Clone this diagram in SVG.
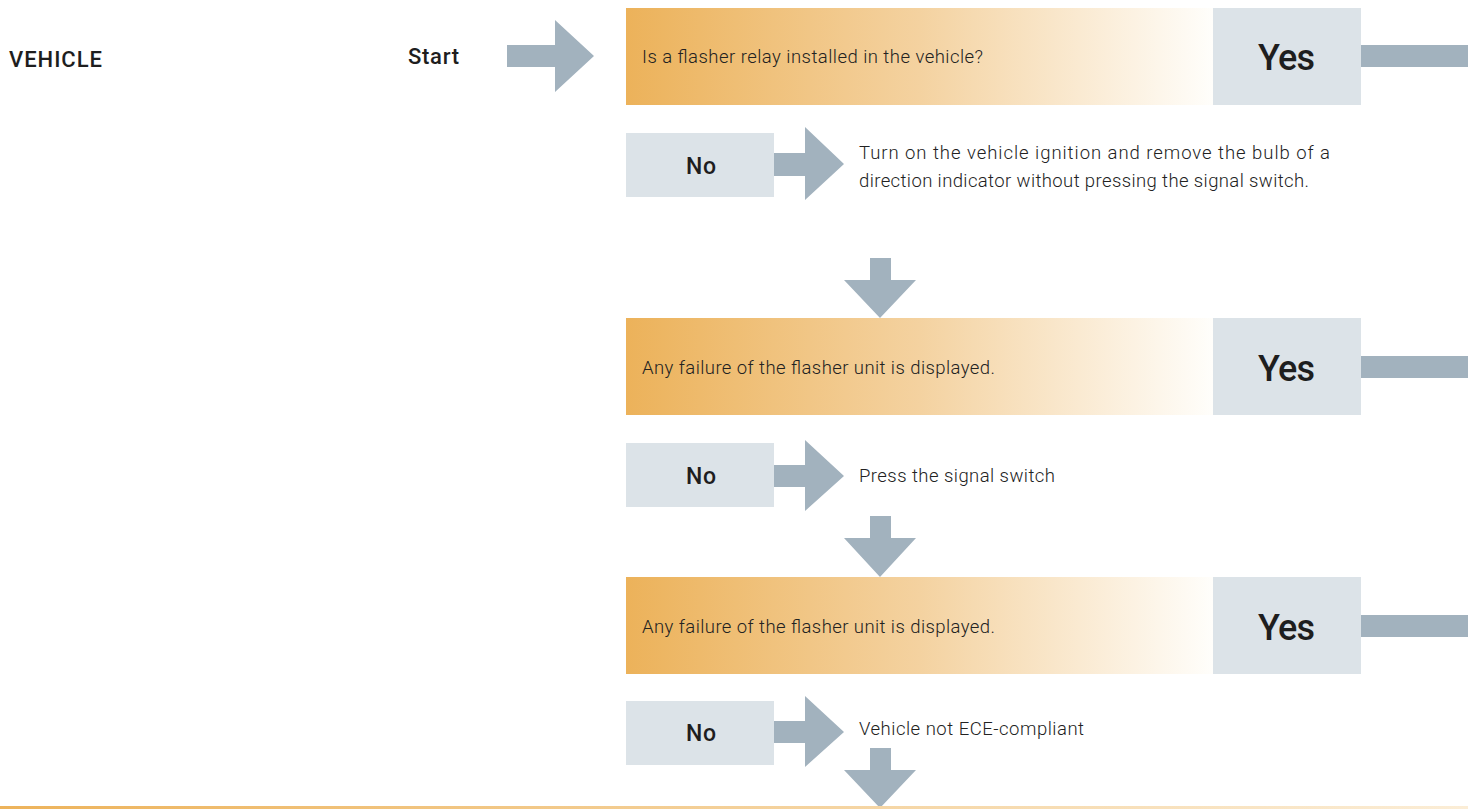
<svg xmlns="http://www.w3.org/2000/svg" width="1468" height="810" viewBox="0 0 1468 810">
<defs>
<linearGradient id="og" x1="0" y1="0" x2="1" y2="0">
<stop offset="0" stop-color="#ECB25A"/>
<stop offset="0.5" stop-color="#F4D2A0"/>
<stop offset="1" stop-color="#FFFEFB"/>
</linearGradient>
<linearGradient id="lg" x1="0" y1="0" x2="1" y2="0">
<stop offset="0" stop-color="#EDB35B"/>
<stop offset="1" stop-color="#FBEDD6"/>
</linearGradient>
<style>
.q{fill:url(#og)}
.y{fill:#DCE3E8}
.a{fill:#A2B2BE}
.t{font-family:Roboto,"Liberation Sans",sans-serif;font-weight:300;font-size:18.5px;fill:#222}
.yes{font-family:Roboto,"Liberation Sans",sans-serif;font-weight:500;font-size:36px;fill:#1e1e1e}
.no{font-family:Roboto,"Liberation Sans",sans-serif;font-weight:500;font-size:23px;fill:#1e1e1e}
.lb{font-family:Roboto,"Liberation Sans",sans-serif;font-weight:500;font-size:22px;fill:#1e1e1e}
</style>
</defs>
<rect width="1468" height="810" fill="#fff"/>
<text id="vehicle" class="lb" x="9" y="67" textLength="93" lengthAdjust="spacing">VEHICLE</text>
<g id="start"><text class="lb" x="408" y="64" textLength="51" lengthAdjust="spacing">Start</text></g>
<g id="q1">
<rect class="q" x="626" y="8" width="587" height="97"/>
<text class="t" x="642" y="63" textLength="341" lengthAdjust="spacing">Is a flasher relay installed in the vehicle?</text>
</g>
<g id="yes1"><rect class="y" x="1213" y="8" width="148" height="97"/><text class="yes" x="1258" y="70" textLength="57" lengthAdjust="spacing">Yes</text></g>
<g id="no1"><rect class="y" x="626" y="133" width="148" height="64"/><text class="no" x="686" y="174" textLength="30" lengthAdjust="spacing">No</text></g>
<g id="step1"><text class="t" x="859" y="159" textLength="471" lengthAdjust="spacing">Turn on the vehicle ignition and remove the bulb of a</text><text class="t" x="859" y="187" textLength="450" lengthAdjust="spacing">direction indicator without pressing the signal switch.</text></g>
<g id="q2">
<rect class="q" x="626" y="318" width="587" height="97"/>
<text class="t" x="642" y="374" textLength="353" lengthAdjust="spacing">Any failure of the flasher unit is displayed.</text>
</g>
<g id="yes2"><rect class="y" x="1213" y="318" width="148" height="97"/><text class="yes" x="1258" y="381" textLength="57" lengthAdjust="spacing">Yes</text></g>
<g id="no2"><rect class="y" x="626" y="443" width="148" height="64"/><text class="no" x="686" y="484" textLength="30" lengthAdjust="spacing">No</text></g>
<g id="step2"><text class="t" x="859" y="482" textLength="196" lengthAdjust="spacing">Press the signal switch</text></g>
<g id="q3">
<rect class="q" x="626" y="577" width="587" height="97"/>
<text class="t" x="642" y="633" textLength="353" lengthAdjust="spacing">Any failure of the flasher unit is displayed.</text>
</g>
<g id="yes3"><rect class="y" x="1213" y="577" width="148" height="97"/><text class="yes" x="1258" y="640" textLength="57" lengthAdjust="spacing">Yes</text></g>
<g id="no3"><rect class="y" x="626" y="701" width="148" height="64"/><text class="no" x="686" y="741" textLength="30" lengthAdjust="spacing">No</text></g>
<g id="step3"><text class="t" x="859" y="735" textLength="225" lengthAdjust="spacing">Vehicle not ECE-compliant</text></g>
<g id="connectors">
<polygon class="a" points="507,45 555,45 555,20 594,56 555,92 555,67 507,67"/>
<rect class="a" x="1361" y="45" width="107" height="22"/>
<rect class="a" x="1361" y="356" width="107" height="22"/>
<rect class="a" x="1361" y="615" width="107" height="22"/>
<polygon class="a" points="774,153 805,153 805,127 844,164 805,200 805,176 774,176"/>
<polygon class="a" points="774,465 805,465 805,440 844,476 805,511 805,487 774,487"/>
<polygon class="a" points="774,721 805,721 805,696 844,732 805,767 805,743 774,743"/>
<polygon class="a" points="870,258 891,258 891,280 916,280 880,318 844,280 870,280"/>
<polygon class="a" points="870,516 891,516 891,538 916,538 880,577 844,538 870,538"/>
<polygon class="a" points="870,748 891,748 891,770 916,770 880,808 844,770 870,770"/>
</g>
<rect x="0" y="806" width="1468" height="3" fill="url(#lg)"/>
</svg>
